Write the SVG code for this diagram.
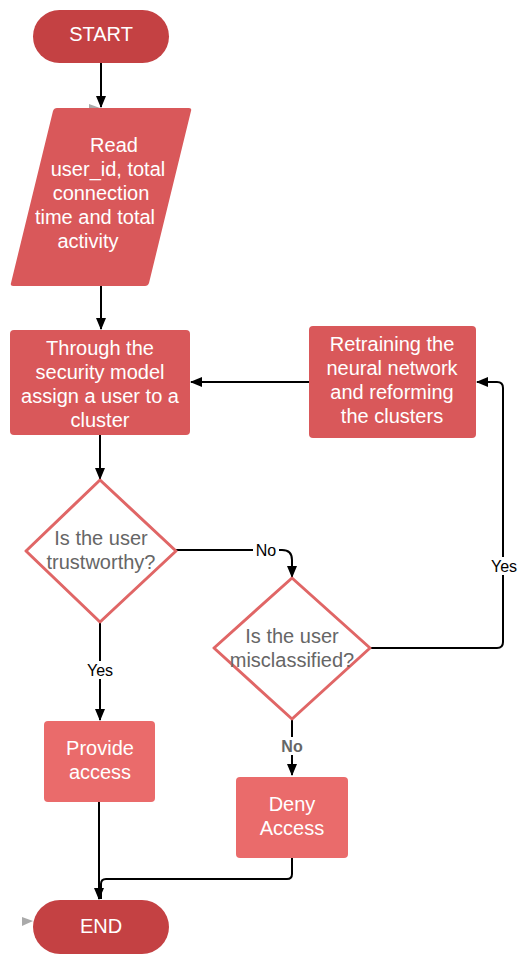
<svg xmlns="http://www.w3.org/2000/svg" width="518" height="954" viewBox="0 0 518 954">
<style>
text{font-family:"Liberation Sans",Arial,sans-serif;text-anchor:middle}
.w{fill:#ffffff;font-size:20px}
.g{fill:#666666;font-size:20px}
.lbl{fill:#000000;font-size:16px}
.lblb{fill:#666666;font-size:16px;font-weight:bold}
.term{fill:#c44143}
.proc{fill:#d9585a}
.proc2{fill:#ea6b6b}
.dec{fill:#ffffff;stroke:#e06666;stroke-width:3;stroke-linejoin:round}
.c{fill:none;stroke:#000000;stroke-width:2}
.bg{fill:#ffffff}
</style>
<defs>
<marker id="ah" markerUnits="userSpaceOnUse" markerWidth="12" markerHeight="12" viewBox="0 0 12 12" refX="11" refY="6" orient="auto">
<path d="M0,1 L12,6 L0,11 Z" fill="#000000"/>
</marker>
</defs>
<g id="connectors">
<path class="c" d="M101,63 L101,107" marker-end="url(#ah)"/>
<path class="c" d="M101,286 L101,329" marker-end="url(#ah)"/>
<path class="c" d="M100,435 L100,479" marker-end="url(#ah)"/>
<path class="c" d="M176,550 L282,550 Q292,550 292,560 L292,577" marker-end="url(#ah)"/>
<path class="c" d="M292,720 L292,775" marker-end="url(#ah)"/>
<path class="c" d="M100,622 L100,720" marker-end="url(#ah)"/>
<path class="c" d="M370,648 L497,648 Q503,648 503,642 L503,388 Q503,382 497,382 L477,382" marker-end="url(#ah)"/>
<path class="c" d="M309,382 L191,382" marker-end="url(#ah)"/>
<path class="c" d="M99,802 L99,899" marker-end="url(#ah)"/>
<path class="c" d="M292,858 L292,874 Q292,879 287,879 L106,879 Q101,879 101,884 L101,899"/>
<rect class="bg" x="253" y="541" width="26" height="18"/>
<text class="lbl" x="266" y="556">No</text>
<rect class="bg" x="279" y="737" width="26" height="18"/>
<text class="lblb" x="292" y="752">No</text>
<rect class="bg" x="85" y="661" width="30" height="18"/>
<text class="lbl" x="100" y="676">Yes</text>
<rect class="bg" x="489" y="557" width="30" height="18"/>
<text class="lbl" x="504" y="572">Yes</text>
<polygon points="89,104 100,108 89,111" fill="#aaaaaa"/>
<polygon points="22,917 33,921 22,926" fill="#aaaaaa"/>
</g>
<g id="start">
<rect class="term" x="33" y="10" width="136" height="53" rx="26.5"/>
<text class="w" x="101" y="41">START</text>
</g>
<g id="read">
<path class="proc" d="M57,108 L189,108 Q192,108 191,111 L149,283 Q148,286 145,286 L13,286 Q10,286 11,283 L53,111 Q54,108 57,108 Z"/>
<text class="w" x="114" y="152">Read</text>
<text class="w" x="108" y="176">user_id, total</text>
<text class="w" x="101" y="200">connection</text>
<text class="w" x="95" y="224">time and total</text>
<text class="w" x="88" y="248">activity</text>
</g>
<g id="assign">
<rect class="proc" x="10" y="330" width="180" height="105" rx="4"/>
<text class="w" x="100" y="355">Through the</text>
<text class="w" x="100" y="379">security model</text>
<text class="w" x="100" y="403">assign a user to a</text>
<text class="w" x="100" y="427">cluster</text>
</g>
<g id="retrain">
<rect class="proc" x="309" y="326" width="167" height="112" rx="4"/>
<text class="w" x="392" y="351">Retraining the</text>
<text class="w" x="392" y="375">neural network</text>
<text class="w" x="392" y="399">and reforming</text>
<text class="w" x="392" y="423">the clusters</text>
</g>
<g id="trust">
<path class="dec" d="M100,480 L176,551 L100,622 L26,551 Z"/>
<text class="g" x="101" y="545">Is the user</text>
<text class="g" x="101" y="569">trustworthy?</text>
</g>
<g id="misclass">
<path class="dec" d="M292,578 L370,648 L292,719 L214,648 Z"/>
<text class="g" x="292" y="643">Is the user</text>
<text class="g" x="292" y="667">misclassified?</text>
</g>
<g id="provide">
<rect class="proc2" x="44" y="721" width="111" height="81" rx="4"/>
<text class="w" x="100" y="755">Provide</text>
<text class="w" x="100" y="779">access</text>
</g>
<g id="deny">
<rect class="proc2" x="236" y="777" width="112" height="81" rx="4"/>
<text class="w" x="292" y="811">Deny</text>
<text class="w" x="292" y="835">Access</text>
</g>
<g id="end">
<rect class="term" x="33" y="900" width="136" height="54" rx="27"/>
<text class="w" x="101" y="933">END</text>
</g>
</svg>
